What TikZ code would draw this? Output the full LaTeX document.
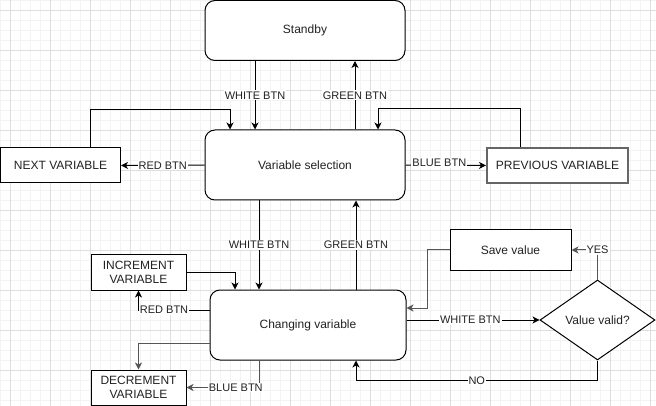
\documentclass[tikz,border=0pt]{standalone}
\usepackage{fontspec}
\setmainfont{Liberation Sans}
\usetikzlibrary{shapes.geometric,arrows.meta,calc}
\definecolor{minorgrid}{HTML}{F3F3F3}
\definecolor{majorgrid}{HTML}{DEDEDE}
\definecolor{txt}{HTML}{222222}
\definecolor{edgegray}{HTML}{555555}
\tikzset{
  state/.style={draw=black, line width=1pt, rounded corners=10pt, fill=white, inner sep=0pt, font=\fontsize{12}{14}\selectfont, text=txt},
  plainbox/.style={draw=black, line width=1pt, fill=white, inner sep=0pt, font=\fontsize{12}{14}\selectfont, text=txt, align=center},
  graybox/.style={draw=black!60, line width=2pt, fill=white, inner sep=0pt, font=\fontsize{12}{14}\selectfont, text=txt},
  decision/.style={diamond, draw=black, line width=1pt, fill=white, inner sep=0pt, font=\fontsize{12}{14}\selectfont, text=txt},
  conn/.style={line width=1pt, draw=black, -{Stealth[length=7pt,width=7pt,inset=2pt]}},
  grayconn/.style={conn, draw=edgegray},
  lbl/.style={fill=white, inner sep=1pt, font=\fontsize{11}{13}\selectfont, text=txt},
}
\begin{document}
\begin{tikzpicture}[x=1pt,y=-1pt]
\useasboundingbox (0,0) rectangle (656,406);
% grid
\foreach \i in {0,10,...,650} { \draw[minorgrid, line width=0.8pt] (\i,0) -- (\i,406); }
\foreach \j in {0,10,...,400} { \draw[minorgrid, line width=0.8pt] (0,\j) -- (656,\j); }
\foreach \i in {10,50,...,650} { \draw[majorgrid, line width=0.8pt] (\i,0) -- (\i,406); }
\foreach \j in {10,50,...,400} { \draw[majorgrid, line width=0.8pt] (0,\j) -- (656,\j); }

% nodes
\node[state, minimum width=200pt, minimum height=60pt] (std) at (305,30.5) {Standby};
\node[state, minimum width=200pt, minimum height=70pt] (vs) at (305,165) {Variable selection};
\node[plainbox, minimum width=120pt, minimum height=35pt] (next) at (60.5,165.5) {NEXT VARIABLE};
\node[graybox, minimum width=141pt, minimum height=35pt] (prev) at (557.5,165.5) {PREVIOUS VARIABLE};
\node[state, minimum width=196pt, minimum height=70pt] (cv) at (308,325) {Changing variable};
\node[plainbox, minimum width=95pt, minimum height=35pt, font=\fontsize{12}{14}\selectfont] (inc) at (138.5,272.5) {INCREMENT\\VARIABLE};
\node[plainbox, minimum width=95pt, minimum height=35pt, font=\fontsize{12}{14}\selectfont] (dec) at (138.5,387.5) {DECREMENT\\VARIABLE};
\node[plainbox, minimum width=121pt, minimum height=40pt] (save) at (510.5,250) {Save value};
\node[decision, minimum width=115pt, minimum height=80pt] (valid) at (597.5,320) {Value valid?};

% connectors
\draw[conn] ([xshift=-50pt]std.south) -- node[lbl] {WHITE BTN} ([xshift=-50pt]vs.north);
\draw[conn] ([xshift=50pt]vs.north) -- node[lbl] {GREEN BTN} ([xshift=50pt]std.south);
\draw[conn] (vs.west) -- node[lbl] {RED BTN} (next.east);
\draw[conn] ([xshift=30pt]next.north) -- ++(0,-38) -| ([xshift=-75pt]vs.north);
\draw[conn] (vs.east) -- node[lbl, pos=0.42, yshift=2pt] {BLUE BTN} (prev.west);
\draw[conn] ([xshift=-37pt]prev.north) -- ++(0,-38) -| ([xshift=73pt]vs.north);
\draw[conn] ([xshift=-46pt]vs.south) -- node[lbl] {WHITE BTN} ([xshift=-49pt]cv.north);
\draw[conn] ([xshift=48pt]cv.north) -- node[lbl] {GREEN BTN} ([xshift=51pt]vs.south);
\draw[conn] (inc.east) -| ([xshift=-73pt]cv.north);
\draw[conn] ([yshift=15pt]cv.west) -| node[lbl, pos=0.32] {RED BTN} (inc.south);
\draw[grayconn] ([yshift=-18pt]cv.west) -| (dec.north);
\draw[grayconn] ([xshift=-49pt]cv.south) |- node[lbl, pos=0.66] {BLUE BTN} (dec.east);
\draw[conn] (valid.west -| cv.east) -- node[lbl, pos=0.48] {WHITE BTN} (valid.west);
\draw[grayconn] (valid.north) |- node[lbl, pos=0.5] {YES} (save.east);
\draw[grayconn] (save.west) -- ++(-22,0) |- ([yshift=17pt]cv.east);
\draw[conn] (valid.south) -- ++(0,20) -| node[lbl, pos=0.25] {NO} ([xshift=48pt]cv.south);
\end{tikzpicture}
\end{document}
